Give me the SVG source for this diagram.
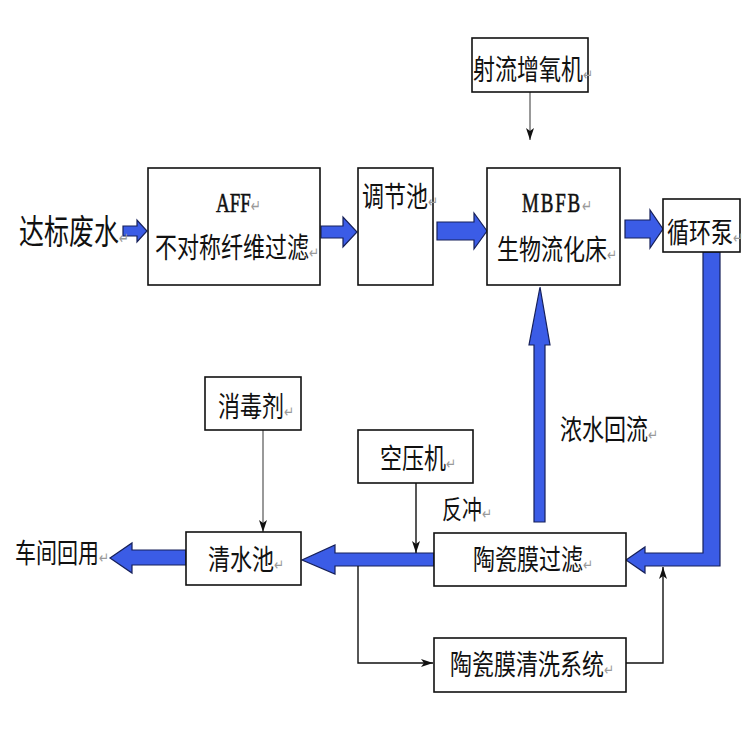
<svg xmlns="http://www.w3.org/2000/svg" width="750" height="750" viewBox="0 0 750 750">
<defs>
<style>
.box{fill:#fff;stroke:#111;stroke-width:1.6}
.t{font-family:"Noto Sans CJK SC","Noto Sans",sans-serif;font-size:22px;fill:#111}
.l{font-family:"Liberation Serif",serif;fill:#111;stroke:#111;stroke-width:0.4}
.rm{font-family:"DejaVu Sans",sans-serif;font-size:12px;fill:#999;stroke:none}
.pipe{fill:#3b5ce6;stroke:#16205a;stroke-width:1.2;stroke-linejoin:miter}
.thin{fill:none;stroke:#111;stroke-width:1.4}
.gray{fill:none;stroke:#555;stroke-width:1.2}
</style>
<marker id="ah" viewBox="0 0 12 8" refX="12" refY="4" markerWidth="12" markerHeight="8" markerUnits="userSpaceOnUse" orient="auto">
<path d="M0,0 L12,4 L0,8 L3,4 Z" fill="#111"/>
</marker>
</defs>
<rect width="750" height="750" fill="#fff"/>

<g id="connectors">
<polygon class="pipe" points="123,226 137,226 137,220 147,231 137,242 137,236 123,236"/>
<polygon class="pipe" points="321,226 343,226 343,217 357,232 343,247 343,238 321,238"/>
<polygon class="pipe" points="437,222 474,222 474,213 487,231 474,249 474,240 437,240"/>
<polygon class="pipe" points="625,220 650,220 650,210 663,229 650,248 650,238 625,238"/>
<polygon class="pipe" points="703,252 720,252 720,566 645,566 645,573 626,560 645,547 645,553 703,553"/>
<polygon class="pipe" points="534,522 545,522 545,345 550,345 540,287 529,345 534,345"/>
<polygon class="pipe" points="434,553 335,553 335,545 302,560 335,574 335,566 434,566"/>
<polygon class="pipe" points="186,550 132,550 132,543 110,558 132,573 132,565 186,565"/>
<line class="gray" x1="530" y1="92" x2="530" y2="140" marker-end="url(#ah)"/>
<line class="gray" x1="263" y1="430" x2="263" y2="532" marker-end="url(#ah)"/>
<line class="thin" x1="416" y1="483" x2="416" y2="553" marker-end="url(#ah)"/>
<polyline class="thin" points="358,566 358,663 433,663" marker-end="url(#ah)"/>
<polyline class="thin" points="626,663 663,663 663,567" marker-end="url(#ah)"/>
</g>

<g id="n-input">
<text class="t" style="font-size:25px" transform="translate(19,244) scale(1,1.35)">达标废水<tspan class="rm">↵</tspan></text>
</g>
<g id="n-aff">
<rect class="box" x="148" y="168" width="172" height="117"/>
<text class="l" style="font-size:19px" transform="translate(216,212) scale(1,1.45)">AFF<tspan class="rm">↵</tspan></text>
<text class="t" transform="translate(155,258) scale(1,1.3)">不对称纤维过滤<tspan class="rm">↵</tspan></text>
</g>
<g id="n-tank">
<rect class="box" x="358" y="168" width="75" height="117"/>
<text class="t" transform="translate(362,207) scale(1,1.3)">调节池<tspan class="rm">↵</tspan></text>
</g>
<g id="n-mbfb">
<rect class="box" x="487" y="168" width="133" height="117"/>
<text class="l" style="font-size:19px;letter-spacing:1.8px" transform="translate(522,212) scale(1,1.45)">MBFB<tspan class="rm">↵</tspan></text>
<text class="t" transform="translate(497,260) scale(1,1.3)">生物流化床<tspan class="rm">↵</tspan></text>
</g>
<g id="n-aerator">
<rect class="box" x="472" y="38" width="116" height="54"/>
<text class="t" transform="translate(473,80) scale(1,1.3)">射流增氧机<tspan class="rm">↵</tspan></text>
</g>
<g id="n-pump">
<rect class="box" x="663" y="199" width="77" height="53"/>
<text class="t" transform="translate(667,243) scale(1,1.3)">循环泵<tspan class="rm">↵</tspan></text>
</g>
<g id="n-ceramic">
<rect class="box" x="434" y="533" width="192" height="53"/>
<text class="t" transform="translate(473,570) scale(1,1.3)">陶瓷膜过滤<tspan class="rm">↵</tspan></text>
</g>
<g id="n-clean">
<rect class="box" x="434" y="638" width="192" height="54"/>
<text class="t" transform="translate(450,675) scale(1,1.3)">陶瓷膜清洗系统<tspan class="rm">↵</tspan></text>
</g>
<g id="n-compressor">
<rect class="box" x="358" y="430" width="115" height="53"/>
<text class="t" transform="translate(380,469) scale(1,1.3)">空压机<tspan class="rm">↵</tspan></text>
</g>
<g id="n-disinfectant">
<rect class="box" x="205" y="377" width="96" height="53"/>
<text class="t" transform="translate(218,417) scale(1,1.3)">消毒剂<tspan class="rm">↵</tspan></text>
</g>
<g id="n-clear">
<rect class="box" x="186" y="532" width="115" height="53"/>
<text class="t" transform="translate(208,570) scale(1,1.3)">清水池<tspan class="rm">↵</tspan></text>
</g>
<g id="n-output">
<text class="t" style="font-size:21px" transform="translate(15,563) scale(1,1.3)">车间回用<tspan class="rm">↵</tspan></text>
</g>
<g id="labels">
<text class="t" transform="translate(560,440) scale(1,1.3)">浓水回流<tspan class="rm">↵</tspan></text>
<text class="t" style="font-size:20px" transform="translate(442,519) scale(1,1.3)">反冲<tspan class="rm">↵</tspan></text>
</g>
</svg>
